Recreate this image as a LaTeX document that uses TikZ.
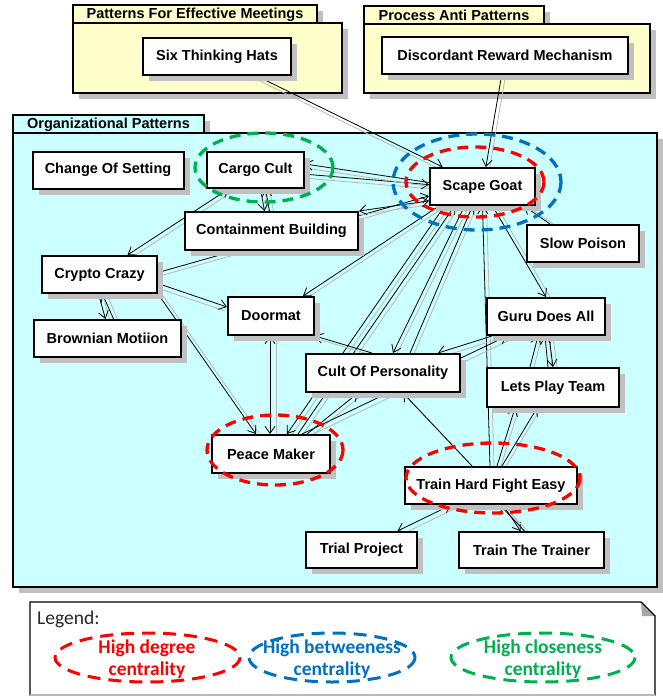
\documentclass[tikz,border=0pt]{standalone}
\usepackage{fontspec}
\setmainfont{Liberation Sans}
\newfontfamily\legfont{Carlito}
\usetikzlibrary{arrows.meta,shadows,calc}
\pgfdeclarelayer{back}
\pgfdeclarelayer{edges}
\pgfdeclarelayer{front}
\pgfsetlayers{back,edges,main,front}
\definecolor{pkgyellow}{HTML}{FFFFCC}
\definecolor{orgcyan}{HTML}{CCFFFF}
\definecolor{shgray}{HTML}{C0C0C0}
\definecolor{lgray}{HTML}{B8B8B8}
\definecolor{hred}{HTML}{FF0000}
\definecolor{hblue}{HTML}{0070C0}
\definecolor{hgreen}{HTML}{00B050}
\tikzset{
  shd/.style={drop shadow={shadow xshift=6pt,shadow yshift=-6pt,fill=shgray,opacity=1}},
  pat/.style={draw, line width=2pt, fill=white, shd, inner sep=0pt,
    font=\bfseries\fontsize{14.5}{16}\selectfont},
  pkgbox/.style={draw, line width=2pt, shd},
  tabtext/.style={font=\bfseries\fontsize{14.5}{16}\selectfont, inner sep=0pt},
  bline/.style={draw=black, line width=0.8pt},
  gline/.style={draw=lgray, line width=0.8pt},
  ell/.style={line width=3.3pt, dash pattern=on 11pt off 7pt},
  legell/.style={line width=3pt, dash pattern=on 13pt off 8pt},
  legtext/.style={font=\legfont\bfseries\fontsize{19.5}{22.5}\selectfont, align=center, inner sep=0pt},
  legtitle/.style={font=\legfont\fontsize{19.5}{22.5}\selectfont, inner sep=0pt},
  >={Straight Barb[length=7pt,width=10pt]}
}
\newcommand\edgelink[4][->]{%
  \draw[gline,transform canvas={shift={#4}}] #2 -- #3;
  \draw[bline,#1] #2 -- #3;}
\begin{document}
\begin{tikzpicture}[x=1pt,y=-1pt]
\useasboundingbox (0,0) rectangle (663,697);

% ---------- package backgrounds ----------
\begin{pgfonlayer}{back}
  \draw[pkgbox, fill=pkgyellow] (73,5) rectangle (317,23);
  \draw[pkgbox, fill=pkgyellow] (73,23) rectangle (342,93);
  \node[tabtext] (pkgA) at (195,14.5) {Patterns For Effective Meetings};
  \draw[pkgbox, fill=pkgyellow] (364,6) rectangle (544,24);
  \draw[pkgbox, fill=pkgyellow] (364,24) rectangle (650,93);
  \node[tabtext] (pkgB) at (454,15.5) {Process Anti Patterns};
  \draw[pkgbox, fill=orgcyan] (13,115) rectangle (204,133);
  \draw[pkgbox, fill=orgcyan] (13,133) rectangle (657,587);
  \node[tabtext] (pkgC) at (108.5,124.5) {Organizational Patterns};
\end{pgfonlayer}

% ---------- nodes ----------
\node[pat, minimum width=148pt, minimum height=37pt] (hats) at (217,56.5) {Six Thinking Hats};
\node[pat, minimum width=246pt, minimum height=37pt] (disc) at (505,55.5) {Discordant Reward Mechanism};
\node[pat, minimum width=151pt, minimum height=37pt] (cos) at (108,170) {Change Of Setting};
\node[pat, minimum width=97pt, minimum height=36pt] (cargo) at (255.5,170) {Cargo Cult};
\node[pat, minimum width=105pt, minimum height=37pt] (scape) at (482.5,186.5) {Scape Goat};
\node[pat, minimum width=173pt, minimum height=38pt] (cont) at (271.5,231) {Containment Building};
\node[pat, minimum width=112pt, minimum height=37pt] (slow) at (583,243.5) {Slow Poison};
\node[pat, minimum width=115pt, minimum height=37pt] (crypto) at (99.5,274.5) {Crypto Crazy};
\node[pat, minimum width=86pt, minimum height=38pt] (doormat) at (271,316) {Doormat};
\node[pat, minimum width=147pt, minimum height=37pt] (brown) at (107.5,338.5) {Brownian Motiion};
\node[pat, minimum width=118pt, minimum height=37pt] (guru) at (546,316.5) {Guru Does All};
\node[pat, minimum width=154pt, minimum height=38pt] (cult) at (383,373) {Cult Of Personality};
\node[pat, minimum width=132pt, minimum height=39pt] (lets) at (553,387.5) {Lets Play Team};
\node[pat, minimum width=118pt, minimum height=38pt] (peace) at (271,454) {Peace Maker};
\node[pat, minimum width=172pt, minimum height=37pt] (train) at (491,485.5) {Train Hard Fight Easy};
\node[pat, minimum width=111pt, minimum height=36pt] (trial) at (361.5,550) {Trial Project};
\node[pat, minimum width=145pt, minimum height=36pt] (trainer) at (531.5,550) {Train The Trainer};

% ---------- connectors ----------
\begin{pgfonlayer}{edges}
  \edgelink{(hats)}{(scape)}{(-1,3)}
  \edgelink{(disc)}{(scape)}{(4,0)}
  \edgelink{(cargo)}{(scape.178)}{(0,4)}
  \edgelink{([yshift=4pt]scape.west)}{([yshift=6pt]cargo.east)}{(0,4)}
  \edgelink{([xshift=5pt]cargo.south)}{([xshift=-7pt]cont.north)}{(4,0)}
  \edgelink{([xshift=-2pt]cont.north)}{([xshift=10pt]cargo.south)}{(4,0)}
  \edgelink[<->]{([xshift=28pt]crypto.north)}{([xshift=-27pt]cargo.south)}{(5,2)}
  \edgelink{([yshift=2pt]crypto.east)}{(scape.190)}{(0,4)}
  \edgelink{([yshift=-9pt]crypto.east)}{([yshift=9pt]doormat.west)}{(-2,4)}
  \edgelink{([xshift=-1pt]crypto.south)}{([xshift=-2pt]brown.north)}{(4,0)}
  \edgelink{([xshift=6pt]brown.north)}{([xshift=3pt]crypto.south)}{(4,0)}
  \edgelink{(crypto.south east)}{([xshift=-15pt]peace.north)}{(3,-1)}
  \edgelink[<->]{(cont.north east)}{(scape.195)}{(0,4)}
  \edgelink{([xshift=10pt]scape.south west)}{([xshift=32pt]doormat.north)}{(4,2)}
  \edgelink{([xshift=-33pt]slow.north)}{([xshift=-12pt]scape.south east)}{(3,0)}
  \edgelink{([xshift=10pt]scape.south)}{(guru.north)}{(4,0)}
  \edgelink{([xshift=-18pt]scape.south)}{([xshift=10pt]cult.north)}{(4,1)}
  \edgelink{([xshift=27pt]cult.north)}{([xshift=-10pt]scape.south)}{(4,1)}
  \edgelink{([xshift=-38pt]scape.south)}{([xshift=16pt]peace.north)}{(4,2)}
  \edgelink{([xshift=27pt]peace.north)}{([xshift=-28pt]scape.south)}{(4,2)}
  \edgelink{([xshift=-1pt]train.north)}{(scape.south)}{(4,0)}
  \edgelink[<->]{([xshift=-1pt]doormat.south)}{([xshift=-1pt]peace.north)}{(6,0)}
  \edgelink{([xshift=-11pt]cult.north)}{(doormat.south east)}{(6,4)}
  \edgelink{([xshift=36pt]peace.north)}{([xshift=-25pt]cult.south)}{(4,2)}
  \edgelink{([xshift=31pt]peace.north)}{([xshift=-39pt]guru.south)}{(3,4)}
  \edgelink{([xshift=6pt]guru.south west)}{([xshift=-23pt]cult.north east)}{(3,4)}
  \edgelink{([xshift=-23pt]lets.north)}{([xshift=-8pt]guru.south)}{(4,0)}
  \edgelink{([xshift=-5pt]lets.north)}{([xshift=-1pt]guru.south)}{(4,0)}
  \edgelink{([xshift=3pt]guru.south)}{([xshift=0pt]lets.north)}{(4,0)}
  \edgelink{([xshift=6pt]train.north)}{([xshift=-38pt]lets.south)}{(4,0)}
  \edgelink{([xshift=11pt]train.north)}{([xshift=-16pt]lets.south)}{(4,0)}
  \edgelink{([xshift=-19pt]train.north)}{([xshift=20pt]cult.south)}{(3,3)}
  \edgelink[<->]{([xshift=-40pt]train.south)}{([xshift=36pt]trial.north)}{(5,3)}
  \edgelink{([xshift=12pt]train.south)}{([xshift=-11pt]trainer.north)}{(3,0)}
  \edgelink{([xshift=-7pt]trainer.north)}{([xshift=9pt]train.south)}{(3,0)}
\end{pgfonlayer}

% ---------- centrality highlights ----------
\begin{pgfonlayer}{front}
  \draw[ell, hgreen] (264,167.5) ellipse [x radius=69, y radius=34.5];
  \draw[ell, hblue] (477,182) ellipse [x radius=84, y radius=48];
  \draw[ell, hred] (475,182) ellipse [x radius=69, y radius=35];
  \draw[ell, hred] (275,450) ellipse [x radius=68, y radius=35];
  \draw[ell, hred] (493,478) ellipse [x radius=87, y radius=35];
\end{pgfonlayer}

% ---------- legend ----------
\draw[line width=1.2pt, fill=white] (30,602) -- (641,602) -- (655,616) -- (655,695) -- (30,695) -- cycle;
\draw[line width=1.2pt, lgray] (30,695) -- (655,695);
\fill[gray!70] (641,602) -- (655,616) -- (642,616) -- cycle;
\draw[line width=1pt] (641,602) -- (655,616);
\node[legtitle, anchor=west, text=black!85] (legtitle) at (37,619) {Legend:};
\draw[legell, hred] (147.5,657.5) ellipse [x radius=92.5, y radius=24.5];
\draw[legell, hblue] (332,657.5) ellipse [x radius=83, y radius=24.5];
\draw[legell, hgreen] (543,657.5) ellipse [x radius=92, y radius=24.5];
\node[legtext, text=hred] (legA) at (147,659) {High degree\\centrality};
\node[legtext, text=hblue] (legB) at (332,659) {High betweeness\\centrality};
\node[legtext, text=hgreen] (legC) at (543,659) {High closeness\\centrality};
\end{tikzpicture}
\end{document}
